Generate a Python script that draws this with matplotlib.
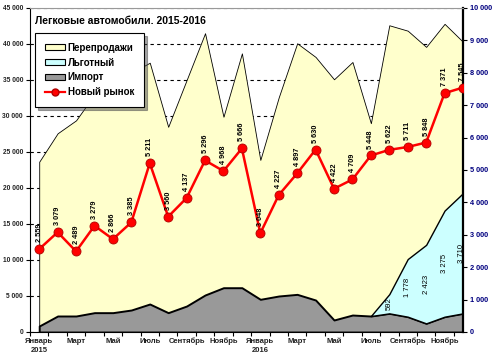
#!/usr/bin/env python3
"""Passenger cars market, Ukraine 2015-2016: resale / import / new."""

import matplotlib
matplotlib.use("Agg")
import matplotlib.pyplot as plt
import numpy as np
from matplotlib.patches import Patch
from matplotlib.lines import Line2D

plt.rcParams["font.family"] = ["Liberation Sans", "DejaVu Sans"]

MONTHS = ["Январь\n2015", "", "Март", "", "Май", "", "Июль", "", "Сентябрь", "", "Ноябрь", "",
          "Январь\n2016", "", "Март", "", "Май", "", "Июль", "", "Сентябрь", "", "Ноябрь", ""]

# left axis
resale = [23650, 27600, 29400, 33000, 35000, 36000, 37400, 28500, 35000, 41500, 29900, 38700,
          23900, 32600, 40100, 38200, 35100, 37500, 29000, 42600, 41850, 39600, 42800, 40300]
# right axis (stacked)
imports = [185, 494, 494, 597, 597, 679, 864, 597, 802, 1142, 1367, 1367,
           1009, 1111, 1162, 987, 371, 524, 493, 576, 473, 267, 473, 576]
lgotny = [0, 0, 0, 0, 0, 0, 0, 0, 0, 0, 0, 0,
          0, 0, 0, 0, 0, 0, 0, 592, 1778, 2423, 3275, 3710]
new_market = [2559, 3079, 2489, 3279, 2866, 3385, 5211, 3560, 4137, 5296, 4968, 5666,
              3048, 4227, 4897, 5630, 4422, 4709, 5448, 5622, 5711, 5848, 7371, 7545]


def fmt(v):
    return f"{v:,}".replace(",", " ")


def main():
    x = np.arange(len(resale))
    imp = np.array(imports)
    lg = np.array(lgotny)

    fig = plt.figure(figsize=(5.0, 3.61), dpi=100)
    ax = fig.add_axes([30 / 500, 1 - 332 / 361, 433 / 500, 324 / 361])
    ax2 = ax.twinx()

    ax.set_axisbelow(True)
    ax.yaxis.grid(True, linestyle=(0, (3, 3)), color="black", lw=0.8)
    ax.fill_between(x, 0, resale, facecolor="#FFFFCC", edgecolor="black", lw=0.6)

    ax2.fill_between(x, 0, imp, facecolor="#999999", edgecolor="black", lw=1.4, zorder=2)
    ax2.fill_between(x[18:], imp[18:], (imp + lg)[18:], facecolor="#CCFFFF",
                     edgecolor="black", lw=1.0, zorder=2)
    ax2.plot(x, new_market, color="red", lw=1.8, marker="o", ms=6.5,
             mfc="red", mec="#b00000", mew=0.6, zorder=5)

    for xi, v in zip(x, new_market):
        ax2.annotate(fmt(v), (xi, v), xytext=(0, 5), textcoords="offset points",
                     rotation=90, ha="center", va="bottom", fontsize=5.3,
                     fontweight="bold", zorder=6)
    for xi, b, v in zip(x, imp, lg):
        if v > 0:
            ax2.text(xi - 0.1 if xi == x[-1] else xi, b + v / 2, fmt(v), rotation=90,
                     ha="center", va="center", fontsize=5.5, zorder=6)

    ax.set_xlim(-0.5, len(x) - 1)
    ax.set_ylim(0, 45000)
    ax2.set_ylim(0, 10000)

    ax.set_yticks(np.arange(0, 45001, 5000))
    ax.set_yticklabels([fmt(v) for v in range(0, 45001, 5000)], fontsize=4.8,
                       fontweight="bold", color="#222222")
    ax2.set_yticks(np.arange(0, 10001, 1000))
    ax2.set_yticklabels([fmt(v) for v in range(0, 10001, 1000)], fontsize=5.3,
                        fontweight="bold", color="#000080")

    ax.set_xticks(x)
    ax.set_xticklabels(MONTHS, fontsize=5.5, fontweight="bold", color="#222222",
                       linespacing=1.4)
    ax.set_xticks(np.arange(-0.5, len(x) - 1, 1), minor=True)
    ax.tick_params(axis="x", which="major", length=0, pad=4)
    ax.tick_params(axis="x", which="minor", length=3, width=0.8)
    ax.tick_params(axis="y", length=3, width=0.8, pad=2)
    ax2.tick_params(axis="y", length=3, width=0.8, pad=2)

    for s in ["top", "right"]:
        ax.spines[s].set_visible(False)
    for s in ["left", "bottom"]:
        ax2.spines[s].set_visible(False)
    ax2.spines["top"].set_color("#999999")
    ax2.spines["top"].set_linewidth(0.8)
    ax2.spines["right"].set_linewidth(1.6)

    ax.text(0.012, 0.975, "Легковые автомобили. 2015-2016", transform=ax.transAxes,
            fontsize=7.5, fontweight="bold", va="top", ha="left")

    handles = [
        Patch(facecolor="#FFFFCC", edgecolor="black", lw=0.8),
        Patch(facecolor="#CCFFFF", edgecolor="black", lw=0.8),
        Patch(facecolor="#999999", edgecolor="black", lw=0.8),
        Line2D([], [], color="red", lw=1.6, marker="o", ms=5, mfc="red", mec="#b00000"),
    ]
    labels = ["Перепродажи", "Льготный", "Импорт", "Новый рынок"]
    leg = ax2.legend(handles, labels, loc="upper left", bbox_to_anchor=(0.012, 0.923),
                     borderaxespad=0, fancybox=False, shadow=True, framealpha=1,
                     edgecolor="black", prop={"size": 7, "weight": "bold"},
                     handlelength=2.1, handleheight=0.6, handletextpad=0.25,
                     labelspacing=0.5, borderpad=1.0)
    leg.get_frame().set_linewidth(0.8)
    leg.set_zorder(10)

    fig.savefig("out.png", dpi=100)
    plt.close(fig)


if __name__ == "__main__":
    main()
